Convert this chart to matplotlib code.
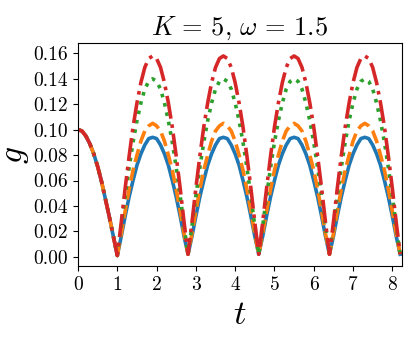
import numpy as np
import matplotlib
matplotlib.use("Agg")
import matplotlib.pyplot as plt

plt.rcParams['font.family'] = 'cmr10'
plt.rcParams['mathtext.fontset'] = 'cm'
plt.rcParams['axes.formatter.use_mathtext'] = True

t = np.round(np.arange(83) * 0.1, 1)

g_blue = [0.100, 0.099, 0.095, 0.089, 0.081, 0.071, 0.059, 0.045, 0.031, 0.016, 0.001,
          0.016, 0.032, 0.047, 0.060, 0.072, 0.081, 0.088, 0.093, 0.094, 0.093, 0.088, 0.081, 0.072, 0.060, 0.047, 0.032, 0.016, 0.002,
          0.016, 0.032, 0.047, 0.060, 0.072, 0.081, 0.088, 0.093, 0.094, 0.093, 0.088, 0.081, 0.072, 0.060, 0.047, 0.032, 0.016, 0.002,
          0.016, 0.032, 0.047, 0.060, 0.072, 0.081, 0.088, 0.093, 0.094, 0.093, 0.088, 0.081, 0.072, 0.060, 0.047, 0.032, 0.016, 0.002,
          0.016, 0.032, 0.047, 0.060, 0.072, 0.081, 0.088, 0.093, 0.094, 0.093, 0.088, 0.081, 0.072, 0.060, 0.047, 0.032, 0.016, 0.002]

g_orange = [0.100, 0.099, 0.095, 0.089, 0.081, 0.071, 0.059, 0.045, 0.031, 0.016, 0.001,
            0.018, 0.036, 0.053, 0.068, 0.080, 0.091, 0.099, 0.103, 0.105, 0.103, 0.099, 0.091, 0.080, 0.068, 0.053, 0.036, 0.018, 0.002,
            0.018, 0.036, 0.053, 0.068, 0.080, 0.091, 0.099, 0.103, 0.105, 0.103, 0.099, 0.091, 0.080, 0.068, 0.053, 0.036, 0.018, 0.002,
            0.018, 0.036, 0.053, 0.068, 0.080, 0.091, 0.099, 0.103, 0.105, 0.103, 0.099, 0.091, 0.080, 0.068, 0.053, 0.036, 0.018, 0.002,
            0.018, 0.036, 0.053, 0.068, 0.080, 0.091, 0.099, 0.103, 0.105, 0.103, 0.099, 0.091, 0.080, 0.068, 0.053, 0.036, 0.018, 0.002]

g_green = [0.100, 0.099, 0.095, 0.089, 0.081, 0.071, 0.059, 0.045, 0.031, 0.016, 0.001,
           0.024, 0.048, 0.070, 0.090, 0.107, 0.121, 0.132, 0.138, 0.140, 0.138, 0.132, 0.121, 0.107, 0.090, 0.070, 0.048, 0.024, 0.002,
           0.024, 0.048, 0.070, 0.090, 0.107, 0.121, 0.132, 0.138, 0.140, 0.138, 0.132, 0.121, 0.107, 0.090, 0.070, 0.048, 0.024, 0.002,
           0.024, 0.048, 0.070, 0.090, 0.107, 0.121, 0.132, 0.138, 0.140, 0.138, 0.132, 0.121, 0.107, 0.090, 0.070, 0.048, 0.024, 0.002,
           0.024, 0.048, 0.070, 0.090, 0.107, 0.121, 0.132, 0.138, 0.140, 0.138, 0.132, 0.121, 0.107, 0.090, 0.070, 0.048, 0.024, 0.002]

g_red = [0.100, 0.099, 0.095, 0.089, 0.081, 0.071, 0.059, 0.045, 0.031, 0.016, 0.001,
         0.027, 0.054, 0.079, 0.102, 0.121, 0.137, 0.149, 0.156, 0.158, 0.156, 0.149, 0.137, 0.121, 0.102, 0.079, 0.054, 0.027, 0.002,
         0.027, 0.054, 0.079, 0.102, 0.121, 0.137, 0.149, 0.156, 0.158, 0.156, 0.149, 0.137, 0.121, 0.102, 0.079, 0.054, 0.027, 0.002,
         0.027, 0.054, 0.079, 0.102, 0.121, 0.137, 0.149, 0.156, 0.158, 0.156, 0.149, 0.137, 0.121, 0.102, 0.079, 0.054, 0.027, 0.002,
         0.027, 0.054, 0.079, 0.102, 0.121, 0.137, 0.149, 0.156, 0.158, 0.156, 0.149, 0.137, 0.121, 0.102, 0.079, 0.054, 0.027, 0.002]

x_ticks = [0, 1, 2, 3, 4, 5, 6, 7, 8]
y_ticks = [0.00, 0.02, 0.04, 0.06, 0.08, 0.10, 0.12, 0.14, 0.16]
y_ticklabels = ["0.00", "0.02", "0.04", "0.06", "0.08", "0.10", "0.12", "0.14", "0.16"]

fig = plt.figure(figsize=(4.15, 3.46), dpi=100)
ax = fig.add_axes([0.188, 0.231, 0.781, 0.644])

ax.plot(t, g_blue, color='C0', lw=2.6, ls='-')
ax.plot(t, g_orange, color='C1', lw=2.6, ls='--')
ax.plot(t, g_green, color='C2', lw=2.6, ls=':')
ax.plot(t, g_red, color='C3', lw=2.6, ls='-.')

ax.set_xlim(0, 8.25)
ax.set_ylim(-0.0073, 0.168)
ax.set_xticks(x_ticks)
ax.set_xticklabels([str(v) for v in x_ticks])
ax.set_yticks(y_ticks)
ax.set_yticklabels(y_ticklabels)
ax.tick_params(labelsize=14)
ax.set_xlabel(r'$t$', fontsize=25)
ax.set_ylabel(r'$g$', fontsize=24)
ax.yaxis.set_label_coords(-0.145, 0.5)
ax.set_title(r'$K\,=\,5,\,\omega\,=\,1.5$', fontsize=19)

fig.savefig('out.png', dpi=100)
